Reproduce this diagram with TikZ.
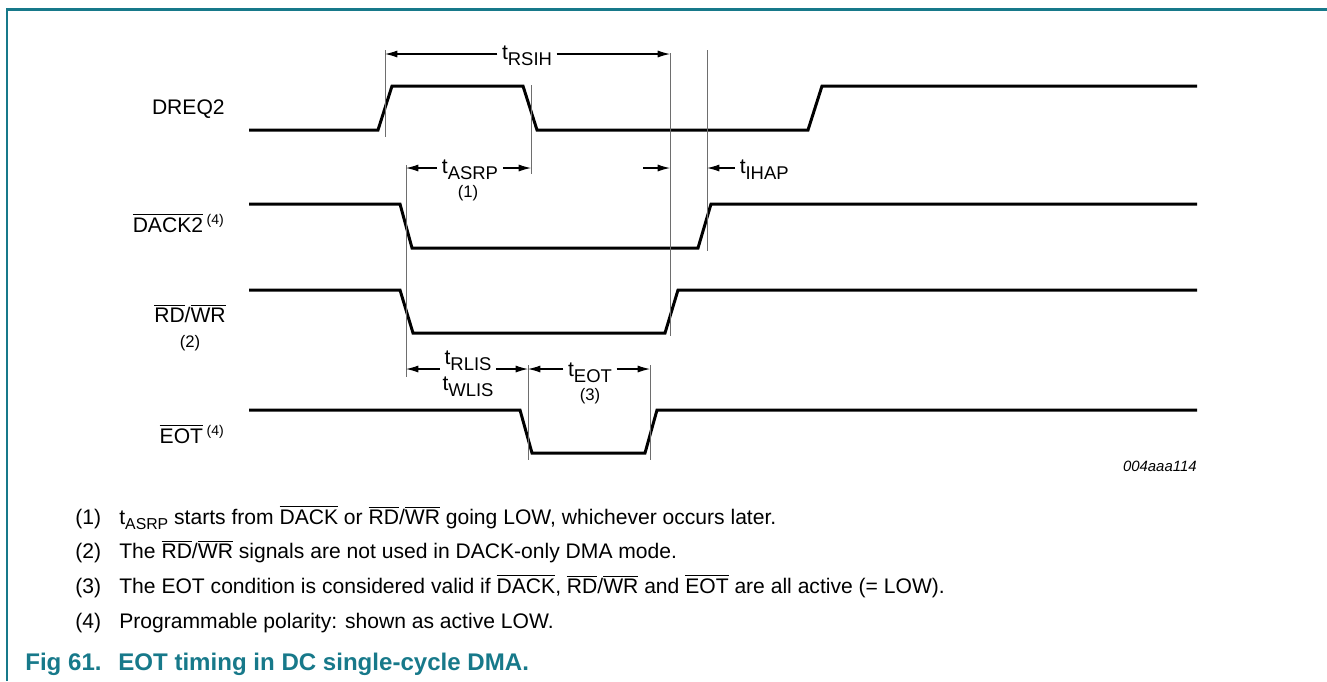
\documentclass[tikz,border=0pt]{standalone}
\usepackage{fontspec}
\setmainfont{Liberation Sans}
\usetikzlibrary{arrows.meta,positioning}
\definecolor{ink}{HTML}{000000}
\definecolor{guidegray}{HTML}{6E6E6E}
\definecolor{nxpteal}{HTML}{17798A}
\newcommand\ovl[1]{\ensuremath{\overline{\mbox{#1}}}}
\newcommand\tsym[1]{t\raisebox{-.55ex}{\fontsize{10.5}{12}\selectfont #1}}
\newcommand\tnote[1]{t\raisebox{-.5ex}{\fontsize{9}{10}\selectfont #1}}
\tikzset{>={Latex[length=7pt,width=4pt]},
  every node/.style={font=\fontsize{12}{14}\selectfont,inner sep=0pt},
  signal/.style={draw=ink,line width=1.7pt},
  guide/.style={draw=guidegray,line width=.55pt},
  dim/.style={->,draw=ink,line width=.6pt},
  frame/.style={draw=nxpteal,line width=1.2pt},
  tlabel/.style={inner sep=2.5pt,anchor=base},
  smallnum/.style={font=\fontsize{9.5}{11}\selectfont},
  note/.style={anchor=base west}}

\begin{document}
\begin{tikzpicture}[x=0.02cm,y=-0.02cm]
\path[use as bounding box] (0,0) rectangle (1327,681);
\draw[frame] (7,681)--(7,9.5)--(1327,9.5);
% signal names
\node[anchor=base east] (dreq) at (225,114) {DREQ2};
\node[anchor=base east] (dack) at (225,232) {\ovl{DACK2}\,\textsuperscript{(4)}};
\node[anchor=base] (rdwr) at (190,322) {\ovl{RD}/\ovl{WR}};
\node[smallnum] (rdwrnote) at (190,343) {(2)};
\node[anchor=base east] (eot) at (225,443) {\ovl{EOT}\,\textsuperscript{(4)}};
% waveforms
\draw[signal] (249,130)--(378,130)--(392,86)--(523,86)--(537,130)--(808,130)--(822,86)--(1197,86);
\draw[signal] (249,204)--(400,204)--(412,248)--(698,248)--(711,204)--(1197,204);
\draw[signal] (249,290)--(400,290)--(413,333)--(665,333)--(678,290)--(1197,290);
\draw[signal] (249,410)--(520,410)--(532,453)--(645,453)--(657,410)--(1197,410);
% guides
\draw[guide] (385,50)--(385,137);
\draw[guide] (531,85)--(531,174);
\draw[guide] (670,53)--(670,336);
\draw[guide] (707,50)--(707,251);
\draw[guide] (406,165)--(406,377);
\draw[guide] (528,365)--(528,460);
\draw[guide] (650,365)--(650,460);
% timing marks
\coordinate (rsihL) at (385,54);
\coordinate (rsihR) at (670,54);
\node[tlabel] (rsih) at (527,59) {\tsym{RSIH}};
\draw[dim] (rsih.west|-rsihL)--(rsihL);
\draw[dim] (rsih.east|-rsihR)--(rsihR);
\coordinate (asrpL) at (406,168);
\coordinate (asrpR) at (531,168);
\node[tlabel] (asrp) at (470,173) {\tsym{ASRP}};
\draw[dim] (asrp.west|-asrpL)--(asrpL);
\draw[dim] (asrp.east|-asrpR)--(asrpR);
\node[smallnum] (asrpnote) at (468,193) {(1)};
\coordinate (ihapA) at (643,168);
\coordinate (ihapB) at (670,168);
\coordinate (ihapC) at (707,168);
\node[tlabel,anchor=base west] (ihap) at (735,173) {\tsym{IHAP}};
\draw[dim] (ihapA)--(ihapB);
\draw[dim] (ihap.west|-ihapC)--(ihapC);
\coordinate (rlisL) at (406,369);
\coordinate (rlisR) at (528,369);
\node[tlabel] (rlis) at (468,364) {\tsym{RLIS}};
\node[tlabel] (wlis) at (468,390) {\tsym{WLIS}};
\draw[dim] (rlis.west|-rlisL)--(rlisL);
\draw[dim] (rlis.east|-rlisR)--(rlisR);
\coordinate (eotL) at (528,369);
\coordinate (eotR) at (650,369);
\node[tlabel] (teot) at (590,376) {\tsym{EOT}};
\draw[dim] (teot.west|-eotL)--(eotL);
\draw[dim] (teot.east|-eotR)--(eotR);
\node[smallnum] (eotnote) at (590,396) {(3)};
\node[anchor=base east,font=\fontsize{8.5}{10}\selectfont\itshape] (figid) at (1197,471) {004aaa114};
% notes
\node[note] (n1) at (75,524) {(1)};
\node[note] (n1t) at (119,524) {\tnote{ASRP} starts from \ovl{DACK} or \ovl{RD}/\ovl{WR} going LOW, whichever occurs later.};
\node[note] (n2) at (75,558) {(2)};
\node[note] (n2t) at (119,558) {The \ovl{RD}/\ovl{WR} signals are not used in DACK-only DMA mode.};
\node[note] (n3) at (75,593) {(3)};
\node[note] (n3t) at (119,593) {The EOT condition is considered valid if \ovl{DACK}, \ovl{RD}/\ovl{WR} and \ovl{EOT} are all active (= LOW).};
\node[note] (n4) at (75,628) {(4)};
\node[note] (n4t) at (119,628) {Programmable polarity: shown as active LOW.};
\node[note,font=\fontsize{13.7}{16}\selectfont\bfseries,text=nxpteal] (fig) at (25,670) {Fig 61.};
\node[note,font=\fontsize{13.7}{16}\selectfont\bfseries,text=nxpteal] (figtext) at (118,670) {EOT timing in DC single-cycle DMA.};
\end{tikzpicture}
\end{document}
